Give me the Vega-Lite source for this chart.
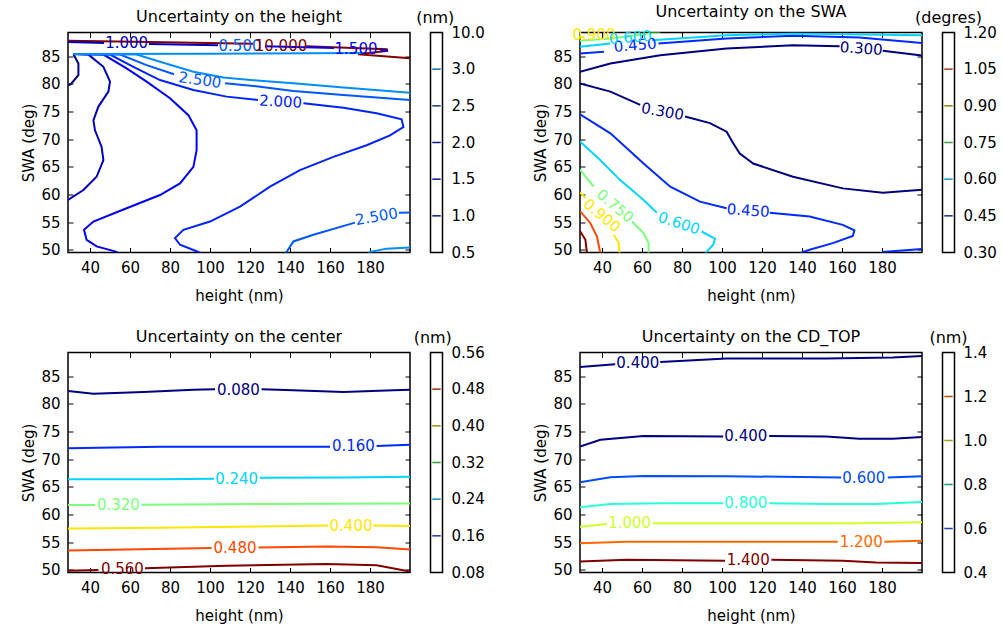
{
"$schema": "https://vega.github.io/schema/vega-lite/v6.json",
"padding": {"left": 21, "top": 2.5, "right": 5, "bottom": 2},
"resolve": {"scale": {"color": "independent"}},
"config": {
  "font": "DejaVu Sans",
  "view": {"stroke": "black", "strokeWidth": 1.5},
  "axis": {"grid": false, "domain": false, "tickColor": "black", "tickSize": -5, "tickWidth": 1, "labelFontSize": 15, "labelColor": "black", "labelFont": "DejaVu Sans", "titleFont": "DejaVu Sans", "titleFontSize": 15, "titleFontWeight": "normal", "titleColor": "black", "labelPadding": 13},
  "axisX": {"titlePadding": 13},
  "title": {"fontSize": 16, "fontWeight": "normal", "font": "DejaVu Sans", "offset": 7.5, "color": "black"},
  "text": {"font": "DejaVu Sans"}
},
"datasets": {
  "L1": [
    {"g":"r1","l":"10.0","x":29,"y":87.8},{"g":"r1","l":"10.0","x":70,"y":87.6},{"g":"r1","l":"10.0","x":121.5,"y":87.26},
    {"g":"r2","l":"10.0","x":148,"y":86.8},{"g":"r2","l":"10.0","x":175,"y":86.45},{"g":"r2","l":"10.0","x":188.4,"y":86.26},{"g":"r2","l":"10.0","x":188.6,"y":85.96},{"g":"r2","l":"10.0","x":174,"y":85.36},{"g":"r2","l":"10.0","x":200,"y":84.64},
    {"g":"a05","l":"0.5","x":31.7,"y":85.4},{"g":"a05","l":"0.5","x":34.2,"y":83.7},{"g":"a05","l":"0.5","x":34.2,"y":81.6},{"g":"a05","l":"0.5","x":30.5,"y":80.0},{"g":"a05","l":"0.5","x":29,"y":79.7},
    {"g":"t1a","l":"1.0","x":29,"y":87.6},{"g":"t1a","l":"1.0","x":47,"y":87.4},
    {"g":"t1b","l":"1.0","x":69.5,"y":87.2},{"g":"t1b","l":"1.0","x":104,"y":87.0},
    {"g":"d1","l":"1.0","x":31.7,"y":85.4},{"g":"d1","l":"1.0","x":39.2,"y":85.3},{"g":"d1","l":"1.0","x":46.7,"y":83.1},{"g":"d1","l":"1.0","x":50,"y":80.4},{"g":"d1","l":"1.0","x":49.2,"y":78.6},{"g":"d1","l":"1.0","x":44.2,"y":75.9},{"g":"d1","l":"1.0","x":41.7,"y":73.4},{"g":"d1","l":"1.0","x":42.5,"y":71.6},{"g":"d1","l":"1.0","x":45.8,"y":68.6},{"g":"d1","l":"1.0","x":46.7,"y":66.2},{"g":"d1","l":"1.0","x":43.3,"y":63.2},{"g":"d1","l":"1.0","x":36.7,"y":60.8},{"g":"d1","l":"1.0","x":29,"y":59.0},
    {"g":"t15a","l":"1.5","x":127.5,"y":86.8},{"g":"t15a","l":"1.5","x":162,"y":86.5},
    {"g":"t15b","l":"1.5","x":185,"y":86.2},{"g":"t15b","l":"1.5","x":189,"y":86.0},
    {"g":"e15","l":"1.5","x":31.7,"y":85.4},{"g":"e15","l":"1.5","x":46.7,"y":85.3},{"g":"e15","l":"1.5","x":58.3,"y":82.8},{"g":"e15","l":"1.5","x":68.3,"y":80.4},{"g":"e15","l":"1.5","x":80,"y":77.4},{"g":"e15","l":"1.5","x":89.2,"y":74.35},{"g":"e15","l":"1.5","x":93.3,"y":71.6},{"g":"e15","l":"1.5","x":93.3,"y":68.0},{"g":"e15","l":"1.5","x":91.7,"y":65.0},{"g":"e15","l":"1.5","x":85,"y":62.0},{"g":"e15","l":"1.5","x":75,"y":59.9},{"g":"e15","l":"1.5","x":58.3,"y":57.5},{"g":"e15","l":"1.5","x":41.7,"y":55.1},{"g":"e15","l":"1.5","x":37,"y":53.6},{"g":"e15","l":"1.5","x":38.3,"y":51.8},{"g":"e15","l":"1.5","x":43.3,"y":50.6},{"g":"e15","l":"1.5","x":52.5,"y":49.7},{"g":"e15","l":"1.5","x":55,"y":49.3},
    {"g":"f2a","l":"2.0","x":31.7,"y":85.4},{"g":"f2a","l":"2.0","x":50,"y":85.3},{"g":"f2a","l":"2.0","x":61.7,"y":83.1},{"g":"f2a","l":"2.0","x":75,"y":80.7},{"g":"f2a","l":"2.0","x":91.7,"y":78.9},{"g":"f2a","l":"2.0","x":108.3,"y":77.7},{"g":"f2a","l":"2.0","x":124,"y":77.1},
    {"g":"f2b","l":"2.0","x":146.7,"y":76.5},{"g":"f2b","l":"2.0","x":166.7,"y":75.7},{"g":"f2b","l":"2.0","x":183.3,"y":74.7},{"g":"f2b","l":"2.0","x":195.8,"y":73.6},{"g":"f2b","l":"2.0","x":196.7,"y":72.2},{"g":"f2b","l":"2.0","x":190,"y":70.7},{"g":"f2b","l":"2.0","x":178.3,"y":68.9},{"g":"f2b","l":"2.0","x":161.7,"y":66.8},{"g":"f2b","l":"2.0","x":145,"y":64.4},{"g":"f2b","l":"2.0","x":130,"y":61.4},{"g":"f2b","l":"2.0","x":115,"y":57.8},{"g":"f2b","l":"2.0","x":100,"y":55.1},{"g":"f2b","l":"2.0","x":86.7,"y":53.6},{"g":"f2b","l":"2.0","x":82.5,"y":52.1},{"g":"f2b","l":"2.0","x":85,"y":50.9},{"g":"f2b","l":"2.0","x":94.2,"y":49.6},{"g":"f2b","l":"2.0","x":96,"y":49.3},
    {"g":"g25a","l":"2.5","x":31.7,"y":85.4},{"g":"g25a","l":"2.5","x":55,"y":85.3},{"g":"g25a","l":"2.5","x":68.3,"y":83.4},{"g":"g25a","l":"2.5","x":82,"y":81.75},
    {"g":"g25b","l":"2.5","x":107.5,"y":80.1},{"g":"g25b","l":"2.5","x":125,"y":79.5},{"g":"g25b","l":"2.5","x":141.7,"y":78.7},{"g":"g25b","l":"2.5","x":166.7,"y":78.0},{"g":"g25b","l":"2.5","x":200,"y":77.1},
    {"g":"g25c","l":"2.5","x":138,"y":49.3},{"g":"g25c","l":"2.5","x":138.3,"y":49.6},{"g":"g25c","l":"2.5","x":141.7,"y":51.5},{"g":"g25c","l":"2.5","x":151.7,"y":52.7},{"g":"g25c","l":"2.5","x":172.5,"y":54.9},
    {"g":"g25d","l":"2.5","x":194.5,"y":56.7},{"g":"g25d","l":"2.5","x":200,"y":56.75},
    {"g":"h3a","l":"3.0","x":31.7,"y":85.4},{"g":"h3a","l":"3.0","x":63.3,"y":85.3},{"g":"h3a","l":"3.0","x":75,"y":84.0},{"g":"h3a","l":"3.0","x":91.7,"y":82.2},{"g":"h3a","l":"3.0","x":106.7,"y":81.15},{"g":"h3a","l":"3.0","x":125,"y":80.55},{"g":"h3a","l":"3.0","x":141.7,"y":80.1},{"g":"h3a","l":"3.0","x":166.7,"y":79.35},{"g":"h3a","l":"3.0","x":200,"y":78.4},
    {"g":"h3b","l":"3.0","x":31.7,"y":85.4},{"g":"h3b","l":"3.0","x":100,"y":85.45},{"g":"h3b","l":"3.0","x":150,"y":85.55},{"g":"h3b","l":"3.0","x":176,"y":85.6},
    {"g":"h3c","l":"3.0","x":179,"y":49.3},{"g":"h3c","l":"3.0","x":180,"y":49.6},{"g":"h3c","l":"3.0","x":188.3,"y":50.2},{"g":"h3c","l":"3.0","x":200,"y":50.4}
  ],
  "T1": [
    {"t":"1.000","l":"1.0","x":58.3,"y":87.35},{"t":"0.500","l":"2.5","x":115,"y":86.9},{"t":"10.000","l":"10.0","x":135.5,"y":86.8},{"t":"1.500","l":"1.5","x":173,"y":86.35}
  ],
  "L2": [
    {"g":"u3a","l":"0.30","x":29,"y":82.2},{"g":"u3a","l":"0.30","x":44.2,"y":83.7},{"g":"u3a","l":"0.30","x":69.1,"y":85.2},{"g":"u3a","l":"0.30","x":102.3,"y":86.4},{"g":"u3a","l":"0.30","x":135.5,"y":87.0},{"g":"u3a","l":"0.30","x":158.8,"y":86.8},
    {"g":"u3b","l":"0.30","x":180.4,"y":86.0},{"g":"u3b","l":"0.30","x":200,"y":85.15},
    {"g":"u45a","l":"0.45","x":29,"y":85.5},{"g":"u45a","l":"0.45","x":41,"y":85.8},
    {"g":"u45b","l":"0.45","x":68.2,"y":87.3},{"g":"u45b","l":"0.45","x":102.3,"y":88.2},{"g":"u45b","l":"0.45","x":135.5,"y":88.7},{"g":"u45b","l":"0.45","x":168.7,"y":88.4},{"g":"u45b","l":"0.45","x":200,"y":87.4},
    {"g":"u6a","l":"0.60","x":29,"y":86.7},{"g":"u6a","l":"0.60","x":44.2,"y":87.3},
    {"g":"u6b","l":"0.60","x":65,"y":87.9},{"g":"u6b","l":"0.60","x":102.3,"y":88.8},{"g":"u6b","l":"0.60","x":135.5,"y":89.1},{"g":"u6b","l":"0.60","x":200,"y":88.8},
    {"g":"u75","l":"0.75","x":29,"y":87.8},{"g":"u75","l":"0.75","x":44.2,"y":88.2},{"g":"u75","l":"0.75","x":60.8,"y":89.0},{"g":"u75","l":"0.75","x":69.1,"y":89.4},
    {"g":"u9","l":"0.90","x":29,"y":88.4},{"g":"u9","l":"0.90","x":31,"y":88.55},
    {"g":"l3a","l":"0.30","x":29,"y":80.1},{"g":"l3a","l":"0.30","x":44.2,"y":78.6},{"g":"l3a","l":"0.30","x":59.1,"y":76.2},
    {"g":"l3b","l":"0.30","x":81.5,"y":74.1},{"g":"l3b","l":"0.30","x":94.0,"y":72.9},{"g":"l3b","l":"0.30","x":102.3,"y":71.35},{"g":"l3b","l":"0.30","x":105.6,"y":69.25},{"g":"l3b","l":"0.30","x":108.9,"y":67.4},{"g":"l3b","l":"0.30","x":115.6,"y":65.6},{"g":"l3b","l":"0.30","x":135.5,"y":63.2},{"g":"l3b","l":"0.30","x":160.4,"y":61.1},{"g":"l3b","l":"0.30","x":180.4,"y":60.3},{"g":"l3b","l":"0.30","x":200,"y":60.85},
    {"g":"l45a","l":"0.45","x":29,"y":74.5},{"g":"l45a","l":"0.45","x":44.2,"y":71.05},{"g":"l45a","l":"0.45","x":60.8,"y":65.6},{"g":"l45a","l":"0.45","x":74.1,"y":61.4},{"g":"l45a","l":"0.45","x":89.0,"y":58.7},{"g":"l45a","l":"0.45","x":102.3,"y":57.5},
    {"g":"l45b","l":"0.45","x":123.9,"y":56.7},{"g":"l45b","l":"0.45","x":143.8,"y":56.0},{"g":"l45b","l":"0.45","x":160.4,"y":54.5},{"g":"l45b","l":"0.45","x":166.2,"y":53.5},{"g":"l45b","l":"0.45","x":165.4,"y":52.5},{"g":"l45b","l":"0.45","x":155.4,"y":51.2},{"g":"l45b","l":"0.45","x":143.8,"y":50.0},{"g":"l45b","l":"0.45","x":140.5,"y":49.6},{"g":"l45b","l":"0.45","x":139,"y":49.3},
    {"g":"l45c","l":"0.45","x":180,"y":49.3},{"g":"l45c","l":"0.45","x":180.4,"y":49.6},{"g":"l45c","l":"0.45","x":200,"y":50.15},
    {"g":"l6a","l":"0.60","x":29,"y":69.6},{"g":"l6a","l":"0.60","x":39.2,"y":66.2},{"g":"l6a","l":"0.60","x":49.1,"y":62.6},{"g":"l6a","l":"0.60","x":60.8,"y":59.0},{"g":"l6a","l":"0.60","x":67.4,"y":56.7},
    {"g":"l6b","l":"0.60","x":89.8,"y":53.3},{"g":"l6b","l":"0.60","x":96.5,"y":52.0},{"g":"l6b","l":"0.60","x":95.6,"y":50.9},{"g":"l6b","l":"0.60","x":92.3,"y":49.6},{"g":"l6b","l":"0.60","x":91.8,"y":49.3},
    {"g":"l75a","l":"0.75","x":29,"y":64.5},{"g":"l75a","l":"0.75","x":35.8,"y":61.4},
    {"g":"l75b","l":"0.75","x":55.0,"y":55.1},{"g":"l75b","l":"0.75","x":60.8,"y":53.0},{"g":"l75b","l":"0.75","x":63.3,"y":51.2},{"g":"l75b","l":"0.75","x":63.3,"y":49.3},
    {"g":"l9a","l":"0.90","x":29,"y":60.4},{"g":"l9a","l":"0.90","x":31.7,"y":59.3},
    {"g":"l9b","l":"0.90","x":45.8,"y":52.7},{"g":"l9b","l":"0.90","x":48.3,"y":51.3},{"g":"l9b","l":"0.90","x":48.8,"y":49.3},
    {"g":"l105","l":"1.05","x":29,"y":57.0},{"g":"l105","l":"1.05","x":34.2,"y":54.8},{"g":"l105","l":"1.05","x":37.5,"y":52.4},{"g":"l105","l":"1.05","x":39.2,"y":49.3},
    {"g":"l12","l":"1.20","x":29,"y":53.4},{"g":"l12","l":"1.20","x":31.7,"y":51.8},{"g":"l12","l":"1.20","x":32.5,"y":49.3}
  ],
  "L3": [
    {"g":"a","l":"0.08","x":29,"y":82.33},{"g":"a","l":"0.08","x":41.7,"y":81.85},{"g":"a","l":"0.08","x":66.7,"y":82.15},{"g":"a","l":"0.08","x":91.7,"y":82.57},{"g":"a","l":"0.08","x":102.5,"y":82.63},
    {"g":"b","l":"0.08","x":125.8,"y":82.63},{"g":"b","l":"0.08","x":141.7,"y":82.45},{"g":"b","l":"0.08","x":166.7,"y":82.15},{"g":"b","l":"0.08","x":191.7,"y":82.45},{"g":"b","l":"0.08","x":200,"y":82.57},
    {"g":"c","l":"0.16","x":29,"y":72.0},{"g":"c","l":"0.16","x":75,"y":72.27},{"g":"c","l":"0.16","x":125,"y":72.27},{"g":"c","l":"0.16","x":160,"y":72.27},
    {"g":"d","l":"0.16","x":183.3,"y":72.39},{"g":"d","l":"0.16","x":200,"y":72.63},
    {"g":"e","l":"0.24","x":29,"y":66.38},{"g":"e","l":"0.24","x":75,"y":66.38},{"g":"e","l":"0.24","x":102,"y":66.44},
    {"g":"f","l":"0.24","x":125,"y":66.62},{"g":"f","l":"0.24","x":166.7,"y":66.69},{"g":"f","l":"0.24","x":200,"y":66.81},
    {"g":"g","l":"0.32","x":29,"y":61.71},{"g":"g","l":"0.32","x":42.5,"y":61.71},
    {"g":"h","l":"0.32","x":65.8,"y":61.77},{"g":"h","l":"0.32","x":125,"y":61.9},{"g":"h","l":"0.32","x":200,"y":62.0},
    {"g":"i","l":"0.40","x":29,"y":57.47},{"g":"i","l":"0.40","x":75,"y":57.59},{"g":"i","l":"0.40","x":125,"y":57.83},{"g":"i","l":"0.40","x":159.2,"y":58.01},
    {"g":"j","l":"0.40","x":181.7,"y":58.01},{"g":"j","l":"0.40","x":200,"y":57.89},
    {"g":"k","l":"0.48","x":29,"y":53.47},{"g":"k","l":"0.48","x":58.3,"y":53.65},{"g":"k","l":"0.48","x":100.8,"y":53.95},
    {"g":"m","l":"0.48","x":124.2,"y":54.01},{"g":"m","l":"0.48","x":158.3,"y":54.19},{"g":"m","l":"0.48","x":183.3,"y":54.07},{"g":"m","l":"0.48","x":200,"y":53.65},
    {"g":"n","l":"0.56","x":29,"y":49.83},{"g":"n","l":"0.56","x":44.2,"y":49.95},
    {"g":"o","l":"0.56","x":67.5,"y":50.25},{"g":"o","l":"0.56","x":108.3,"y":50.74},{"g":"o","l":"0.56","x":158.3,"y":51.04},{"g":"o","l":"0.56","x":183.3,"y":50.8},{"g":"o","l":"0.56","x":200,"y":49.7}
  ],
  "T3": [
    {"t":"0.080","l":"0.08","x":114.2,"y":82.6},{"t":"0.160","l":"0.16","x":171.7,"y":72.3},{"t":"0.240","l":"0.24","x":113.3,"y":66.5},{"t":"0.320","l":"0.32","x":54.2,"y":61.7},{"t":"0.400","l":"0.40","x":170.5,"y":57.95},{"t":"0.480","l":"0.48","x":112.5,"y":53.95},{"t":"0.560","l":"0.56","x":56.2,"y":50.2}
  ],
  "L4": [
    {"g":"a","l":"0.4","x":29,"y":86.69},{"g":"a","l":"0.4","x":46.6,"y":87.18},
    {"g":"b","l":"0.4","x":69.1,"y":87.6},{"g":"b","l":"0.4","x":102.3,"y":88.2},{"g":"b","l":"0.4","x":152.1,"y":88.2},{"g":"b","l":"0.4","x":185.3,"y":88.39},{"g":"b","l":"0.4","x":200,"y":88.65},
    {"g":"c","l":"0.4","x":29,"y":72.3},{"g":"c","l":"0.4","x":39.2,"y":73.51},{"g":"c","l":"0.4","x":60.8,"y":74.18},{"g":"c","l":"0.4","x":100.6,"y":74.12},
    {"g":"d","l":"0.4","x":123.6,"y":74.18},{"g":"d","l":"0.4","x":152.1,"y":74.12},{"g":"d","l":"0.4","x":168.7,"y":73.69},{"g":"d","l":"0.4","x":185.3,"y":73.69},{"g":"d","l":"0.4","x":200,"y":74.0},
    {"g":"e","l":"0.6","x":29,"y":65.83},{"g":"e","l":"0.6","x":44.2,"y":66.74},{"g":"e","l":"0.6","x":60.8,"y":66.98},{"g":"e","l":"0.6","x":102.3,"y":66.92},{"g":"e","l":"0.6","x":159.6,"y":66.68},
    {"g":"f","l":"0.6","x":182.9,"y":66.68},{"g":"f","l":"0.6","x":200,"y":66.92},
    {"g":"g","l":"0.8","x":29,"y":61.3},{"g":"g","l":"0.8","x":44.2,"y":61.9},{"g":"g","l":"0.8","x":69.1,"y":62.03},{"g":"g","l":"0.8","x":100.6,"y":62.03},
    {"g":"h","l":"0.8","x":123.6,"y":62.03},{"g":"h","l":"0.8","x":152.1,"y":61.9},{"g":"h","l":"0.8","x":177.0,"y":61.9},{"g":"h","l":"0.8","x":200,"y":62.27},
    {"g":"i","l":"1.0","x":29,"y":57.79},{"g":"i","l":"1.0","x":42.5,"y":58.28},
    {"g":"j","l":"1.0","x":65.4,"y":58.4},{"g":"j","l":"1.0","x":118.9,"y":58.4},{"g":"j","l":"1.0","x":168.7,"y":58.4},{"g":"j","l":"1.0","x":200,"y":58.58},
    {"g":"k","l":"1.2","x":29,"y":54.77},{"g":"k","l":"1.2","x":52.5,"y":55.07},{"g":"k","l":"1.2","x":102.3,"y":55.07},{"g":"k","l":"1.2","x":157.9,"y":55.07},
    {"g":"m","l":"1.2","x":181.2,"y":55.07},{"g":"m","l":"1.2","x":200,"y":55.25},
    {"g":"n","l":"1.4","x":29,"y":51.5},{"g":"n","l":"1.4","x":52.5,"y":51.81},{"g":"n","l":"1.4","x":101.5,"y":51.63},
    {"g":"o","l":"1.4","x":124.7,"y":51.81},{"g":"o","l":"1.4","x":160.4,"y":51.63},{"g":"o","l":"1.4","x":177.0,"y":51.32},{"g":"o","l":"1.4","x":200,"y":51.2}
  ],
  "T4": [
    {"t":"0.400","l":"0.4","x":57.9,"y":87.42},{"t":"0.400","l":"0.4","x":111.9,"y":74.12},{"t":"0.600","l":"0.6","x":170.9,"y":66.68},{"t":"0.800","l":"0.8","x":111.9,"y":62.03},{"t":"1.000","l":"1.0","x":53.8,"y":58.4},{"t":"1.200","l":"1.2","x":169.6,"y":55.07},{"t":"1.400","l":"1.4","x":113.1,"y":51.75}
  ]
},
"columns": 4,
"bounds": "flush",
"spacing": {"row": 100, "column": 20.5},
"concat": [
  {
    "width": 342, "height": 220,
    "title": "Uncertainty on the height",
    "resolve": {"axis": {"x": "independent", "y": "independent"}},
    "encoding": {
      "x": {"field": "x", "type": "quantitative", "scale": {"domain": [29, 200], "nice": false, "zero": false}},
      "y": {"field": "y", "type": "quantitative", "scale": {"domain": [49.5, 89.3], "nice": false, "zero": false}},
      "color": {"field": "l", "type": "nominal", "scale": {"domain": ["0.5","1.0","1.5","2.0","2.5","3.0","10.0"], "range": ["#000080","#0000bd","#0000f9","#0022ff","#0057ff","#008dff","#800000"]}, "legend": null}
    },
    "layer": [
      {"data": {"name": "L1"}, "mark": {"type": "line", "clip": true, "strokeWidth": 2},
       "encoding": {"detail": {"field": "g"}, "order": {"value": null},
         "x": {"field": "x", "type": "quantitative", "axis": {"values": [40,60,80,100,120,140,160,180], "title": "height (nm)"}},
         "y": {"field": "y", "type": "quantitative", "axis": {"values": [50,55,60,65,70,75,80,85], "title": "SWA (deg)"}}}},
      {"data": {"name": "T1"}, "mark": {"type": "text", "fontSize": 15, "baseline": "middle"},
       "encoding": {"text": {"field": "t"},
         "x": {"field": "x", "type": "quantitative", "axis": {"orient": "top", "labels": false, "title": null, "values": [40,60,80,100,120,140,160,180]}},
         "y": {"field": "y", "type": "quantitative", "axis": {"orient": "right", "labels": false, "title": null, "values": [50,55,60,65,70,75,80,85]}}}},
      {"data": {"values": [{"t":"2.500","l":"2.5","x":95,"y":80.7}]}, "mark": {"type": "text", "fontSize": 15, "baseline": "middle", "angle": 8},
       "encoding": {"text": {"field": "t"}, "x": {"field": "x", "type": "quantitative", "axis": null}, "y": {"field": "y", "type": "quantitative", "axis": null}}},
      {"data": {"values": [{"t":"2.000","l":"2.0","x":135.3,"y":76.8}]}, "mark": {"type": "text", "fontSize": 15, "baseline": "middle", "angle": 3},
       "encoding": {"text": {"field": "t"}, "x": {"field": "x", "type": "quantitative", "axis": null}, "y": {"field": "y", "type": "quantitative", "axis": null}}},
      {"data": {"values": [{"t":"2.500","l":"2.5","x":183.3,"y":56.0}]}, "mark": {"type": "text", "fontSize": 15, "baseline": "middle", "angle": 350},
       "encoding": {"text": {"field": "t"}, "x": {"field": "x", "type": "quantitative", "axis": null}, "y": {"field": "y", "type": "quantitative", "axis": null}}}
    ]
  },
  {
    "width": 128.3, "height": 220,
    "view": {"stroke": null},
    "title": {"text": "(nm)", "anchor": "start", "align": "center", "dx": 5.5, "offset": 0},
    "layer": [
      {"data": {"values": [{}]}, "mark": {"type": "rect", "fill": "white", "stroke": "black", "strokeWidth": 1.5},
       "encoding": {"x": {"datum": 0, "type": "quantitative", "scale": {"domain": [0, 10.69], "nice": false, "zero": false}, "axis": null}, "x2": {"datum": 1},
         "y": {"datum": "10.0", "type": "ordinal", "scale": {"type": "point", "domain": ["10.0","3.0","2.5","2.0","1.5","1.0","0.5"], "padding": 0}, "axis": null}, "y2": {"datum": "0.5"}}},
      {"data": {"values": [{"lab":"3.0"},{"lab":"2.5"},{"lab":"2.0"},{"lab":"1.5"},{"lab":"1.0"}]}, "mark": {"type": "rule", "strokeWidth": 1.5},
       "encoding": {"x": {"datum": 0.15, "type": "quantitative"}, "x2": {"datum": 0.85}, "y": {"field": "lab", "type": "ordinal"},
         "color": {"field": "lab", "type": "nominal", "scale": {"domain": ["3.0","2.5","2.0","1.5","1.0"], "range": ["#1a6aa8","#153a90","#101a90","#1010a8","#101088"]}, "legend": null}}},
      {"data": {"values": [{"lab":"10.0"},{"lab":"3.0"},{"lab":"2.5"},{"lab":"2.0"},{"lab":"1.5"},{"lab":"1.0"},{"lab":"0.5"}]}, "mark": {"type": "text", "align": "left", "baseline": "middle", "dx": 9, "fontSize": 15, "color": "black"},
       "encoding": {"x": {"datum": 1, "type": "quantitative"}, "y": {"field": "lab", "type": "ordinal"}, "text": {"field": "lab"}}}
    ]
  },
  {
    "width": 342, "height": 220,
    "title": "Uncertainty on the SWA",
    "resolve": {"axis": {"x": "independent", "y": "independent"}},
    "encoding": {
      "x": {"field": "x", "type": "quantitative", "scale": {"domain": [29, 200], "nice": false, "zero": false}},
      "y": {"field": "y", "type": "quantitative", "scale": {"domain": [49.5, 89.3], "nice": false, "zero": false}},
      "color": {"field": "l", "type": "nominal", "scale": {"domain": ["0.30","0.45","0.60","0.75","0.90","1.05","1.20"], "range": ["#000080","#002aff","#00d4ff","#7bff7b","#ffe600","#ff4800","#800000"]}, "legend": null},
      "text": {"field": "t"}
    },
    "layer": [
      {"data": {"name": "L2"}, "mark": {"type": "line", "clip": true, "strokeWidth": 2},
       "encoding": {"detail": {"field": "g"}, "order": {"value": null}, "text": null,
         "x": {"field": "x", "type": "quantitative", "axis": {"values": [40,60,80,100,120,140,160,180], "title": "height (nm)"}},
         "y": {"field": "y", "type": "quantitative", "axis": {"values": [50,55,60,65,70,75,80,85], "title": "SWA (deg)"}}}},
      {"data": {"values": [{"t":"0.900","l":"0.90","x":36,"y":88.9}]}, "mark": {"type": "text", "fontSize": 15, "baseline": "middle"},
       "encoding": {
         "x": {"field": "x", "type": "quantitative", "axis": {"orient": "top", "labels": false, "title": null, "values": [40,60,80,100,120,140,160,180]}},
         "y": {"field": "y", "type": "quantitative", "axis": {"orient": "right", "labels": false, "title": null, "values": [50,55,60,65,70,75,80,85]}}}},
      {"data": {"values": [{"t":"0.450","l":"0.45","x":56.6,"y":87.0},{"t":"0.600","l":"0.60","x":54.2,"y":88.4}]}, "mark": {"type": "text", "fontSize": 15, "baseline": "middle", "angle": 355},
       "encoding": {"x": {"field": "x", "type": "quantitative", "axis": null}, "y": {"field": "y", "type": "quantitative", "axis": null}}},
      {"data": {"values": [{"t":"0.300","l":"0.30","x":169.6,"y":86.4},{"t":"0.450","l":"0.45","x":113.1,"y":57.1}]}, "mark": {"type": "text", "fontSize": 15, "baseline": "middle", "angle": 4},
       "encoding": {"x": {"field": "x", "type": "quantitative", "axis": null}, "y": {"field": "y", "type": "quantitative", "axis": null}}},
      {"data": {"values": [{"t":"0.300","l":"0.30","x":70.3,"y":75.0}]}, "mark": {"type": "text", "fontSize": 15, "baseline": "middle", "angle": 10},
       "encoding": {"x": {"field": "x", "type": "quantitative", "axis": null}, "y": {"field": "y", "type": "quantitative", "axis": null}}},
      {"data": {"values": [{"t":"0.600","l":"0.60","x":78.5,"y":54.8}]}, "mark": {"type": "text", "fontSize": 15, "baseline": "middle", "angle": 18},
       "encoding": {"x": {"field": "x", "type": "quantitative", "axis": null}, "y": {"field": "y", "type": "quantitative", "axis": null}}},
      {"data": {"values": [{"t":"0.750","l":"0.75","x":46.6,"y":57.9},{"t":"0.900","l":"0.90","x":40,"y":56.2}]}, "mark": {"type": "text", "fontSize": 15, "baseline": "middle", "angle": 40},
       "encoding": {"x": {"field": "x", "type": "quantitative", "axis": null}, "y": {"field": "y", "type": "quantitative", "axis": null}}}
    ]
  },
  {
    "width": 12, "height": 220,
    "view": {"stroke": null},
    "title": {"text": "(degres)", "anchor": "middle", "offset": 0},
    "layer": [
      {"data": {"values": [{}]}, "mark": {"type": "rect", "fill": "white", "stroke": "black", "strokeWidth": 1.5},
       "encoding": {"x": {"datum": 0, "type": "quantitative", "scale": {"domain": [0, 1], "nice": false, "zero": false}, "axis": null}, "x2": {"datum": 1},
         "y": {"datum": "1.20", "type": "ordinal", "scale": {"type": "point", "domain": ["1.20","1.05","0.90","0.75","0.60","0.45","0.30"], "padding": 0}, "axis": null}, "y2": {"datum": "0.30"}}},
      {"data": {"values": [{"lab":"1.05"},{"lab":"0.90"},{"lab":"0.75"},{"lab":"0.60"},{"lab":"0.45"}]}, "mark": {"type": "rule", "strokeWidth": 1.5},
       "encoding": {"x": {"datum": 0.15, "type": "quantitative"}, "x2": {"datum": 0.85}, "y": {"field": "lab", "type": "ordinal"},
         "color": {"field": "lab", "type": "nominal", "scale": {"domain": ["1.05","0.90","0.75","0.60","0.45"], "range": ["#a04020","#908000","#40a040","#10a0b8","#1a2a90"]}, "legend": null}}},
      {"data": {"values": [{"lab":"1.20"},{"lab":"1.05"},{"lab":"0.90"},{"lab":"0.75"},{"lab":"0.60"},{"lab":"0.45"},{"lab":"0.30"}]}, "mark": {"type": "text", "align": "left", "baseline": "middle", "dx": 9, "fontSize": 15, "color": "black"},
       "encoding": {"x": {"datum": 1, "type": "quantitative"}, "y": {"field": "lab", "type": "ordinal"}, "text": {"field": "lab"}}}
    ]
  },
  {
    "width": 342, "height": 220,
    "title": "Uncertainty on the center",
    "resolve": {"axis": {"x": "independent", "y": "independent"}},
    "encoding": {
      "x": {"field": "x", "type": "quantitative", "scale": {"domain": [29, 200], "nice": false, "zero": false}},
      "y": {"field": "y", "type": "quantitative", "scale": {"domain": [49.5, 89.3], "nice": false, "zero": false}},
      "color": {"field": "l", "type": "nominal", "scale": {"domain": ["0.08","0.16","0.24","0.32","0.40","0.48","0.56"], "range": ["#000080","#002aff","#00d4ff","#7bff7b","#ffe600","#ff4800","#800000"]}, "legend": null}
    },
    "layer": [
      {"data": {"name": "L3"}, "mark": {"type": "line", "clip": true, "strokeWidth": 2},
       "encoding": {"detail": {"field": "g"}, "order": {"value": null},
         "x": {"field": "x", "type": "quantitative", "axis": {"values": [40,60,80,100,120,140,160,180], "title": "height (nm)"}},
         "y": {"field": "y", "type": "quantitative", "axis": {"values": [50,55,60,65,70,75,80,85], "title": "SWA (deg)"}}}},
      {"data": {"name": "T3"}, "mark": {"type": "text", "fontSize": 15, "baseline": "middle"},
       "encoding": {"text": {"field": "t"},
         "x": {"field": "x", "type": "quantitative", "axis": {"orient": "top", "labels": false, "title": null, "values": [40,60,80,100,120,140,160,180]}},
         "y": {"field": "y", "type": "quantitative", "axis": {"orient": "right", "labels": false, "title": null, "values": [50,55,60,65,70,75,80,85]}}}}
    ]
  },
  {
    "width": 128.3, "height": 220,
    "view": {"stroke": null},
    "title": {"text": "(nm)", "anchor": "start", "align": "center", "dx": 3, "offset": 0},
    "layer": [
      {"data": {"values": [{}]}, "mark": {"type": "rect", "fill": "white", "stroke": "black", "strokeWidth": 1.5},
       "encoding": {"x": {"datum": 0, "type": "quantitative", "scale": {"domain": [0, 10.69], "nice": false, "zero": false}, "axis": null}, "x2": {"datum": 1},
         "y": {"datum": "0.56", "type": "ordinal", "scale": {"type": "point", "domain": ["0.56","0.48","0.40","0.32","0.24","0.16","0.08"], "padding": 0}, "axis": null}, "y2": {"datum": "0.08"}}},
      {"data": {"values": [{"lab":"0.48"},{"lab":"0.40"},{"lab":"0.32"},{"lab":"0.24"},{"lab":"0.16"}]}, "mark": {"type": "rule", "strokeWidth": 1.5},
       "encoding": {"x": {"datum": 0.15, "type": "quantitative"}, "x2": {"datum": 0.85}, "y": {"field": "lab", "type": "ordinal"},
         "color": {"field": "lab", "type": "nominal", "scale": {"domain": ["0.48","0.40","0.32","0.24","0.16"], "range": ["#a03010","#a09000","#30a030","#1090a8","#2030b0"]}, "legend": null}}},
      {"data": {"values": [{"lab":"0.56"},{"lab":"0.48"},{"lab":"0.40"},{"lab":"0.32"},{"lab":"0.24"},{"lab":"0.16"},{"lab":"0.08"}]}, "mark": {"type": "text", "align": "left", "baseline": "middle", "dx": 9, "fontSize": 15, "color": "black"},
       "encoding": {"x": {"datum": 1, "type": "quantitative"}, "y": {"field": "lab", "type": "ordinal"}, "text": {"field": "lab"}}}
    ]
  },
  {
    "width": 342, "height": 220,
    "title": "Uncertainty on the CD_TOP",
    "resolve": {"axis": {"x": "independent", "y": "independent"}},
    "encoding": {
      "x": {"field": "x", "type": "quantitative", "scale": {"domain": [29, 200], "nice": false, "zero": false}},
      "y": {"field": "y", "type": "quantitative", "scale": {"domain": [49.5, 89.3], "nice": false, "zero": false}},
      "color": {"field": "l", "type": "nominal", "scale": {"domain": ["0.4","0.6","0.8","1.0","1.2","1.4"], "range": ["#000080","#004cff","#29ffd6","#ceff29","#ff6800","#800000"]}, "legend": null}
    },
    "layer": [
      {"data": {"name": "L4"}, "mark": {"type": "line", "clip": true, "strokeWidth": 2},
       "encoding": {"detail": {"field": "g"}, "order": {"value": null},
         "x": {"field": "x", "type": "quantitative", "axis": {"values": [40,60,80,100,120,140,160,180], "title": "height (nm)"}},
         "y": {"field": "y", "type": "quantitative", "axis": {"values": [50,55,60,65,70,75,80,85], "title": "SWA (deg)"}}}},
      {"data": {"name": "T4"}, "mark": {"type": "text", "fontSize": 15, "baseline": "middle"},
       "encoding": {"text": {"field": "t"},
         "x": {"field": "x", "type": "quantitative", "axis": {"orient": "top", "labels": false, "title": null, "values": [40,60,80,100,120,140,160,180]}},
         "y": {"field": "y", "type": "quantitative", "axis": {"orient": "right", "labels": false, "title": null, "values": [50,55,60,65,70,75,80,85]}}}}
    ]
  },
  {
    "width": 12, "height": 220,
    "view": {"stroke": null},
    "title": {"text": "(nm)", "anchor": "middle", "offset": 0},
    "layer": [
      {"data": {"values": [{}]}, "mark": {"type": "rect", "fill": "white", "stroke": "black", "strokeWidth": 1.5},
       "encoding": {"x": {"datum": 0, "type": "quantitative", "scale": {"domain": [0, 1], "nice": false, "zero": false}, "axis": null}, "x2": {"datum": 1},
         "y": {"datum": "1.4", "type": "ordinal", "scale": {"type": "point", "domain": ["1.4","1.2","1.0","0.8","0.6","0.4"], "padding": 0}, "axis": null}, "y2": {"datum": "0.4"}}},
      {"data": {"values": [{"lab":"1.2"},{"lab":"1.0"},{"lab":"0.8"},{"lab":"0.6"}]}, "mark": {"type": "rule", "strokeWidth": 1.5},
       "encoding": {"x": {"datum": 0.15, "type": "quantitative"}, "x2": {"datum": 0.85}, "y": {"field": "lab", "type": "ordinal"},
         "color": {"field": "lab", "type": "nominal", "scale": {"domain": ["1.2","1.0","0.8","0.6"], "range": ["#b05000","#a0a020","#10a080","#2040b0"]}, "legend": null}}},
      {"data": {"values": [{"lab":"1.4"},{"lab":"1.2"},{"lab":"1.0"},{"lab":"0.8"},{"lab":"0.6"},{"lab":"0.4"}]}, "mark": {"type": "text", "align": "left", "baseline": "middle", "dx": 9, "fontSize": 15, "color": "black"},
       "encoding": {"x": {"datum": 1, "type": "quantitative"}, "y": {"field": "lab", "type": "ordinal"}, "text": {"field": "lab"}}}
    ]
  }
]
}
